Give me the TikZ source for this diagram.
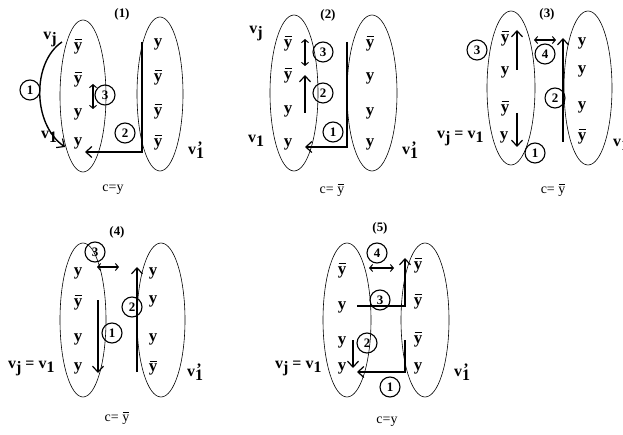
\documentclass[tikz,border=0pt]{standalone}
\usepackage{fontspec}
\setmainfont{Liberation Serif}
\usetikzlibrary{arrows.meta}
\newcommand{\yb}{\textbf{y}\llap{\rule[0.62em]{0.42em}{0.05em}\hspace{0.03em}}}
\newcommand{\ybr}{y\llap{\rule[0.62em]{0.42em}{0.04em}\hspace{0.03em}}}
\newcommand{\vsub}[1]{\textbf{v}\raisebox{-0.55ex}{\textbf{#1}}}
\newcommand{\vpr}{\textbf{v}\raisebox{-0.55ex}{\textbf{1}}\llap{\raisebox{0.3ex}{\textbf{'}}\hspace{0.08em}}}
\tikzset{
  lab/.style={font=\fontsize{17}{17}\selectfont\bfseries, inner sep=0pt},
  vlab/.style={font=\fontsize{16}{16}\selectfont\bfseries, inner sep=0pt},
  ttl/.style={font=\fontsize{13}{13}\selectfont\bfseries, inner sep=0pt},
  captxt/.style={font=\fontsize{14}{14}\selectfont, inner sep=0pt},
  num/.style={draw, circle, line width=1.1pt, minimum size=20bp, inner sep=0pt, font=\fontsize{13}{13}\selectfont\bfseries},
  oval/.style={line width=0.6pt},
  arr/.style={line width=1.4pt, -{Straight Barb[length=6bp,width=11bp,line width=1.2pt]}},
  dbl/.style={line width=1.2pt, {Straight Barb[length=3bp,width=7bp,line width=1pt]}-{Straight Barb[length=3bp,width=7bp,line width=1pt]}}
}
\begin{document}
\begin{tikzpicture}[x=1bp,y=-1bp]
\useasboundingbox (0,0) rectangle (623,435);
\clip (0,0) rectangle (623,435);
% ---------------- panel 1 ----------------
\node[ttl] (t1) at (122,14) {(1)};
\draw[oval] (83,96) ellipse [x radius=23, y radius=76];
\draw[oval] (160,94) ellipse [x radius=23, y radius=77];
\node[lab] (p1l1) at (78,47) {\yb};
\node[lab] (p1l2) at (78,80) {\yb};
\node[lab] (p1l3) at (78,114) {y};
\node[lab] (p1l4) at (78,143) {y};
\node[lab] (p1r1) at (158,44) {y};
\node[lab] (p1r2) at (158,78) {\yb};
\node[lab] (p1r3) at (158,112) {\yb};
\node[lab] (p1r4) at (158,143) {\yb};
\node[vlab] (p1vj) at (50,40) {\vsub{j}};
\node[vlab] (p1v1) at (49,137) {\vsub{1}};
\node[vlab] (p1vp) at (196,150) {\vpr};
\node[captxt] (p1c) at (113,190) {c=y};
\coordinate (p1a1s) at (62,42);
\coordinate (p1a1e) at (65,147);
\draw[arr] (p1a1s) .. controls (32,62) and (32,124) .. (p1a1e);
\node[num] (p1n1) at (30,90) {1};
\coordinate (p1a2s) at (142,42);
\coordinate (p1a2c) at (142,152);
\coordinate (p1a2e) at (85,152);
\draw[arr] (p1a2s) -- (p1a2c) -- (p1a2e);
\node[num] (p1n2) at (125,133) {2};
\coordinate (p1a3s) at (93,84);
\coordinate (p1a3e) at (93,109);
\draw[dbl] (p1a3s) -- (p1a3e);
\node[num] (p1n3) at (105,95) {3};
% ---------------- panel 2 ----------------
\node[ttl] (t2) at (328,15) {(2)};
\draw[oval] (294,93) ellipse [x radius=24, y radius=78];
\draw[oval] (372,93) ellipse [x radius=25, y radius=78];
\node[lab] (p2l1) at (288,44) {\yb};
\node[lab] (p2l2) at (288,76) {\yb};
\node[lab] (p2l3) at (288,111) {y};
\node[lab] (p2l4) at (288,144) {y};
\node[lab] (p2r1) at (370,44) {\yb};
\node[lab] (p2r2) at (370,78) {y};
\node[lab] (p2r3) at (370,113) {y};
\node[lab] (p2r4) at (370,144) {y};
\node[vlab] (p2vj) at (256,34) {\vsub{j}};
\node[vlab] (p2v1) at (256,141) {\vsub{1}};
\node[vlab] (p2vp) at (410,150) {\vpr};
\node[captxt] (p2c) at (332,190) {c= \ybr};
\coordinate (p2a3s) at (305,39);
\coordinate (p2a3e) at (305,66);
\draw[dbl] (p2a3s) -- (p2a3e);
\node[num] (p2n3) at (323,52) {3};
\coordinate (p2a2s) at (305,113);
\coordinate (p2a2e) at (305,75);
\draw[arr] (p2a2s) -- (p2a2e);
\node[num] (p2n2) at (323,93) {2};
\coordinate (p2a1s) at (347,42);
\coordinate (p2a1c) at (347,147);
\coordinate (p2a1e) at (305,147);
\draw[arr] (p2a1s) -- (p2a1c) -- (p2a1e);
\node[num] (p2n1) at (333,132) {1};
% ---------------- panel 3 ----------------
\node[ttl] (t3) at (547,14) {(3)};
\draw[oval] (511,88) ellipse [x radius=24, y radius=77];
\draw[oval] (588,88) ellipse [x radius=24, y radius=77];
\node[lab] (p3l1) at (505,39) {\yb};
\node[lab] (p3l2) at (505,72) {y};
\node[lab] (p3l3) at (505,109) {\yb};
\node[lab] (p3l4) at (504,137) {y};
\node[lab] (p3r1) at (582,43) {y};
\node[lab] (p3r2) at (582,71) {y};
\node[lab] (p3r3) at (582,107) {y};
\node[lab] (p3r4) at (582,137) {\yb};
\node[vlab, anchor=west] (p3v) at (437,138) {\vsub{j} = \vsub{1}};
\node[vlab, anchor=west] (p3vp) at (613,142) {\vpr};
\node[captxt] (p3c) at (553,190) {c= \ybr};
\node[num] (p3n3) at (477,50) {3};
\coordinate (p3a3s) at (517,70);
\coordinate (p3a3e) at (517,30);
\draw[arr] (p3a3s) -- (p3a3e);
\coordinate (p3a1s) at (517,113);
\coordinate (p3a1e) at (517,147);
\draw[arr] (p3a1s) -- (p3a1e);
\node[num] (p3n1) at (535,153) {1};
\coordinate (p3a4s) at (534,40);
\coordinate (p3a4e) at (556,40);
\draw[dbl] (p3a4s) -- (p3a4e);
\node[num] (p3n4) at (545,54) {4};
\coordinate (p3a2s) at (563,142);
\coordinate (p3a2e) at (563,38);
\draw[arr] (p3a2s) -- (p3a2e);
\node[num] (p3n2) at (555,98) {2};
% ---------------- panel 4 ----------------
\node[ttl] (t4) at (117,232) {(4)};
\draw[oval] (83,320) ellipse [x radius=23, y radius=77];
\draw[oval] (161,320) ellipse [x radius=24, y radius=77];
\node[lab] (p4l1) at (78,273) {y};
\node[lab] (p4l2) at (78,303) {\yb};
\node[lab] (p4l3) at (78,339) {y};
\node[lab] (p4l4) at (78,368) {y};
\node[lab] (p4r1) at (153,273) {y};
\node[lab] (p4r2) at (153,301) {y};
\node[lab] (p4r3) at (153,339) {y};
\node[lab] (p4r4) at (153,368) {\yb};
\node[vlab, anchor=west] (p4v) at (8,368) {\vsub{j} = \vsub{1}};
\node[vlab] (p4vp) at (195,372) {\vpr};
\node[captxt] (p4c) at (117,418) {c= \ybr};
\node[num] (p4n3) at (95,252) {3};
\coordinate (p4a3s) at (97,267);
\coordinate (p4a3e) at (119,267);
\draw[dbl] (p4a3s) -- (p4a3e);
\coordinate (p4a1s) at (98,300);
\coordinate (p4a1e) at (98,373);
\draw[arr] (p4a1s) -- (p4a1e);
\node[num] (p4n1) at (112,333) {1};
\coordinate (p4a2s) at (137,372);
\coordinate (p4a2e) at (137,267);
\draw[arr] (p4a2s) -- (p4a2e);
\node[num] (p4n2) at (132,307) {2};
% ---------------- panel 5 ----------------
\node[ttl] (t5) at (380,228) {(5)};
\draw[oval] (347,320) ellipse [x radius=24, y radius=77];
\draw[oval] (425,320) ellipse [x radius=24, y radius=77];
\node[lab] (p5l1) at (342,271) {\yb};
\node[lab] (p5l2) at (342,307) {y};
\node[lab] (p5l3) at (342,342) {y};
\node[lab] (p5l4) at (342,368) {y};
\node[lab] (p5r1) at (418,266) {\yb};
\node[lab] (p5r2) at (418,302) {\yb};
\node[lab] (p5r3) at (418,340) {\yb};
\node[lab] (p5r4) at (418,368) {y};
\node[vlab, anchor=west] (p5v) at (275,368) {\vsub{j} = \vsub{1}};
\node[vlab] (p5vp) at (462,372) {\vpr};
\node[captxt] (p5c) at (387,422) {c=y};
\node[num] (p5n4) at (377,253) {4};
\coordinate (p5a4s) at (369,268);
\coordinate (p5a4e) at (394,268);
\draw[dbl] (p5a4s) -- (p5a4e);
\coordinate (p5a3s) at (357,306);
\coordinate (p5a3c) at (405,306);
\coordinate (p5a3e) at (405,258);
\draw[arr] (p5a3s) -- (p5a3c) -- (p5a3e);
\node[num] (p5n3) at (380,300) {3};
\coordinate (p5a2s) at (353,340);
\coordinate (p5a2e) at (353,368);
\draw[arr] (p5a2s) -- (p5a2e);
\node[num] (p5n2) at (367,343) {2};
\coordinate (p5a1s) at (405,340);
\coordinate (p5a1c) at (405,372);
\coordinate (p5a1e) at (357,372);
\draw[arr] (p5a1s) -- (p5a1c) -- (p5a1e);
\node[num] (p5n1) at (390,387) {1};
\end{tikzpicture}
\end{document}
